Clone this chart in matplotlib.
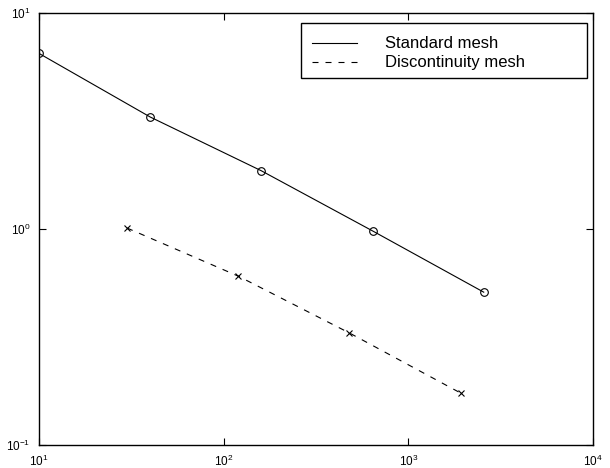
import matplotlib
matplotlib.use("Agg")
import matplotlib.pyplot as plt
from matplotlib.lines import Line2D
from matplotlib.patches import Rectangle

plt.rcParams['font.family'] = ['Liberation Sans', 'DejaVu Sans']
plt.rcParams['mathtext.fontset'] = 'custom'
plt.rcParams['mathtext.rm'] = 'Liberation Sans'
plt.rcParams['mathtext.it'] = 'Liberation Sans'

# Error vs. number of elements
standard_n = [10, 40, 160, 640, 2560]
standard_err = [6.5, 3.3, 1.86, 0.98, 0.51]
discont_n = [30, 120, 480, 1920]
discont_err = [1.01, 0.605, 0.33, 0.174]
legend_labels = ["Standard mesh", "Discontinuity mesh"]

DASH = (5.4, 6.3)
LW = 0.8

fig = plt.figure(figsize=(6.10, 4.68), dpi=100)
ax = fig.add_axes([39/610, 1 - 445/468, (593 - 39)/610, (445 - 13)/468])

ax.plot(standard_n, standard_err, '-', color='black', lw=LW)
ax.plot(standard_n, standard_err, 'o', mfc='none', mec='black', ms=5.5, mew=0.8)
ax.plot(discont_n, discont_err, '--', color='black', lw=LW, dashes=DASH)
ax.plot(discont_n, discont_err, 'x', color='black', ms=3.8, mew=0.8)

ax.set_xscale('log')
ax.set_yscale('log')
ax.set_xlim(10, 1e4)
ax.set_ylim(0.1, 10)
ax.minorticks_off()
ax.tick_params(which='both', direction='in', top=True, right=True,
               length=5, width=0.8, labelsize=8.5, pad=6)
for s in ax.spines.values():
    s.set_linewidth(1.0)

# Legend box
fig.patches.append(Rectangle((301/610, 1 - 78/468), (587 - 301)/610, (78 - 23)/468,
                             transform=fig.transFigure, fill=False,
                             edgecolor='black', lw=1.0))
rows = [43, 62]
styles = [dict(ls='-'), dict(ls='--', dashes=DASH)]
for y, lab, st in zip(rows, legend_labels, styles):
    yf = 1 - y/468
    fig.lines.append(Line2D([312/610, 357/610], [yf, yf], transform=fig.transFigure,
                            color='black', lw=LW, **st))
    fig.text(385/610, yf, lab, fontsize=12, va='center', ha='left')

fig.savefig("out.png", dpi=100)
